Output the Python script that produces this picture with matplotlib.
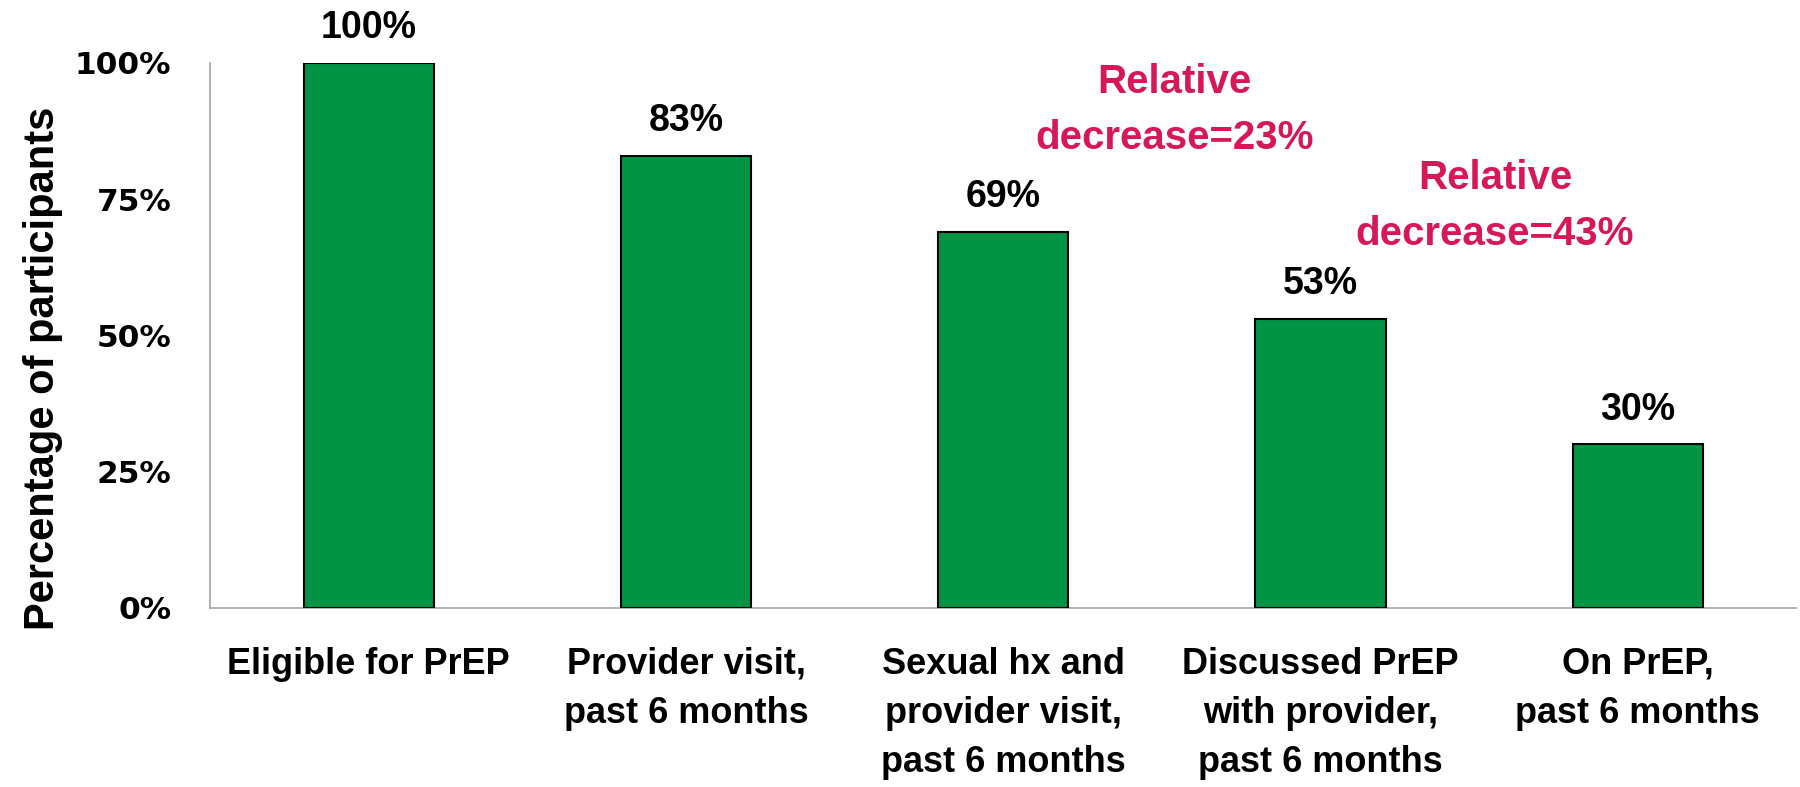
import matplotlib
matplotlib.use("Agg")
import matplotlib.pyplot as plt
from matplotlib import font_manager

# data
categories = ["Eligible for PrEP", "Provider visit,\npast 6 months",
              "Sexual hx and\nprovider visit,\npast 6 months",
              "Discussed PrEP\nwith provider,\npast 6 months",
              "On PrEP,\npast 6 months"]
values = [100, 83, 69, 53, 30]
yticks = [0, 25, 50, 75, 100]
notes = ["Relative\ndecrease=23%", "Relative\ndecrease=43%"]
note_x = [2.54, 3.55]
note_y = [91.4, 73.7]

names = {f.name for f in font_manager.fontManager.ttflist}
narrow = "Liberation Sans Narrow" if "Liberation Sans Narrow" in names else "Liberation Sans"

green = "#009444"
magenta = "#d6175a"

fig = plt.figure(figsize=(18, 7.87), dpi=100)
ax = fig.add_axes([0.1167, 0.2275, 0.8813, 0.6925])

x = range(len(categories))
ax.bar(x, values, width=0.41, color=green, edgecolor="black", linewidth=1.5, zorder=3)

# value labels above the bars
for xi, v in zip(x, values):
    ax.annotate(f"{v}%", (xi, v), xytext=(0, 25), textcoords="offset points",
                ha="center", va="center", fontsize=27, fontweight="bold",
                family=narrow, annotation_clip=False)

for t, nx, ny in zip(notes, note_x, note_y):
    ax.text(nx, ny, t, ha="center", va="center", fontsize=29, fontweight="bold",
            color=magenta, family=narrow, linespacing=1.6)

ax.set_xlim(-0.5, 4.5)
ax.set_ylim(0, 100)
ax.set_yticks(yticks)
ax.set_yticklabels([f"{t}%" for t in yticks], fontsize=22.5, fontweight="bold",
                   family="DejaVu Sans")
ax.set_xticks(list(x))
ax.set_xticklabels(categories, fontsize=26, fontweight="bold", family=narrow,
                   linespacing=1.52, va="top")
ax.tick_params(axis="both", length=0)
ax.tick_params(axis="y", pad=28)
ax.tick_params(axis="x", pad=28)

for s in ["top", "right"]:
    ax.spines[s].set_visible(False)
for s in ["left", "bottom"]:
    ax.spines[s].set_color("#a6a6a6")
    ax.spines[s].set_linewidth(1.2)

ax.set_ylabel("Percentage of participants", fontsize=30, fontweight="bold",
              family=narrow)
ax.yaxis.set_label_coords(-0.093, 0.44)

fig.savefig("out.png", dpi=100)
